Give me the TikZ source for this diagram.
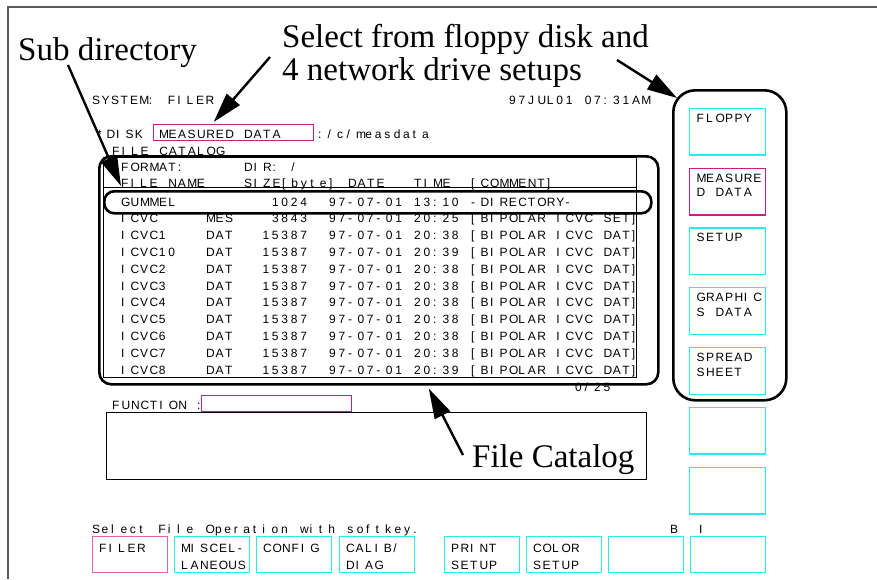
\documentclass[tikz,border=0pt]{standalone}
\usepackage{fontspec}
\setmainfont{Liberation Serif}
\newfontfamily\crtfont{Liberation Sans}
\usetikzlibrary{arrows.meta}

% every screen character sits in a cell of fixed width
\newlength\crtw
\setlength\crtw{9.45pt}
\ExplSyntaxOn
\NewDocumentCommand\crt{m}{\exp_args:Ne\str_map_inline:nn{#1}{\makebox[\crtw][l]{##1}}}
\ExplSyntaxOff

\definecolor{keycyan}{RGB}{40,235,235}
\definecolor{keymag}{RGB}{200,30,130}
\definecolor{keypink}{RGB}{225,100,175}
\definecolor{framegray}{RGB}{90,90,90}

\tikzset{
  scr/.style={font=\crtfont\fontsize{12}{14}\selectfont, inner sep=0pt, anchor=base west},
  note/.style={font=\fontsize{33}{33}\selectfont, inner sep=0pt, anchor=base west},
  key/.style={line width=1.3pt, inner sep=0pt, anchor=north west},
  callout/.style={draw, line width=2.6pt, rounded corners=#1pt, inner sep=0pt, anchor=north west},
  pointer/.style={line width=2.4pt, -{Triangle[length=30pt,width=17pt]}},
}

\begin{document}
\begin{tikzpicture}[x=1pt, y=-1pt]
\useasboundingbox (0,0) rectangle (877,579);
% frame of the screen shot
\draw[framegray, line width=1.5pt] (877,7) -- (8,7) -- (8,579);

% title and disk lines
\node[scr] (sysname) at (92,104) {\crt{SYSTEM: FILER}};
\node[scr] (sysdate) at (509,104) {\crt{97JUL01 07:31AM}};
\node[scr] (disklbl) at (97,138) {\crt{*DISK}};
\node[key, draw=keymag, minimum width=160pt, minimum height=16pt] (diskbox) at (153,124) {};
\node[scr] (diskname) at (159,138) {\crt{MEASURED DATA}};
\node[scr] (diskpath) at (318,138) {\crt{:/c/measdata}};
\node[scr] (catlbl) at (112,155) {\crt{FILE CATALOG}};

% the file table
\draw[line width=0.8pt] (103,157) rectangle (636,377);
\draw[line width=0.8pt] (103,187.5) -- (636,187.5);
\node[scr] (fmt) at (121,171) {\crt{FORMAT:}};
\node[scr] (dir) at (244,171) {\crt{DIR: /}};
\node[scr] (hname) at (121,187) {\crt{FILE NAME}};
\node[scr] (hsize) at (244,187) {\crt{SIZE[byte]}};
\node[scr] (hdate) at (348,187) {\crt{DATE}};
\node[scr] (htime) at (414,187) {\crt{TIME}};
\node[scr] (hcomm) at (471,187) {\crt{[COMMENT]}};

\node[scr] (gname) at (121,206) {\crt{GUMMEL}};
\node[scr, anchor=base east] (gsize) at (310,206) {\crt{1024}};
\node[scr] (gdate) at (329,206) {\crt{97-07-01}};
\node[scr] (gtime) at (414,206) {\crt{13:10}};
\node[scr] (gcomm) at (471,206) {\crt{-DIRECTORY-}};

\foreach \fname/\fext/\fsize/\ftime/\fkind [count=\i] in {ICVC/MES/3843/20:25/SET,
    ICVC1/DAT/15387/20:38/DAT, ICVC10/DAT/15387/20:39/DAT, ICVC2/DAT/15387/20:38/DAT,
    ICVC3/DAT/15387/20:38/DAT, ICVC4/DAT/15387/20:38/DAT, ICVC5/DAT/15387/20:38/DAT,
    ICVC6/DAT/15387/20:38/DAT, ICVC7/DAT/15387/20:38/DAT, ICVC8/DAT/15387/20:39/DAT}{
  \node[scr] (rname\i) at (121,{206+16.8*\i}) {\crt{\fname}};
  \node[scr] (rext\i) at (206,{206+16.8*\i}) {\crt{\fext}};
  \node[scr, anchor=base east] (rsize\i) at (310,{206+16.8*\i}) {\crt{\fsize}};
  \node[scr] (rdate\i) at (329,{206+16.8*\i}) {\crt{97-07-01}};
  \node[scr] (rtime\i) at (414,{206+16.8*\i}) {\crt{\ftime}};
  \node[scr] (rcomm\i) at (471,{206+16.8*\i}) {\crt{[BIPOLAR ICVC \fkind]}};
}
\node[scr] (count) at (575,391) {\crt{0/25}};

% function line and message area
\node[scr] (fnlbl) at (112,409) {\crt{FUNCTION :}};
\node[key, draw=keymag, minimum width=150pt, minimum height=16pt] (fnbox) at (201,395) {};
\node[key, draw, line width=1pt, minimum width=540pt, minimum height=67pt] (msgbox) at (106,412) {};

% soft keys at the right
\foreach \la/\lb/\kcol [count=\i from 0] in {FLOPPY/{}/keycyan, MEASURE/D DATA/keymag,
    SETUP/{}/keycyan, GRAPHIC/S DATA/keycyan, SPREAD/SHEET/keycyan, {}/{}/keycyan, {}/{}/keycyan}{
  \node[key, draw=\kcol, minimum width=76pt, minimum height=46.7pt] (rkey\i) at (689,{107.7+59.8*\i}) {};
  \node[scr] (rkeya\i) at ([xshift=7.5pt, yshift=-14.5pt]rkey\i.north west) {\crt{\la}};
  \node[scr] (rkeyb\i) at ([xshift=7.5pt, yshift=-29.2pt]rkey\i.north west) {\crt{\lb}};
}

% prompt and soft keys at the bottom
\node[scr] (prompt) at (92,533) {\crt{Select File Operation with softkey.}};
\node[scr] (bmark) at (670,533) {\crt{B}};
\node[scr] (imark) at (699,533) {\crt{I}};
\foreach \kx/\la/\lb/\kcol [count=\i] in {92/FILER/{}/keypink, 174/MISCEL-/LANEOUS/keycyan,
    256/CONFIG/{}/keycyan, 339/{CALIB/}/DIAG/keycyan, 444/PRINT/SETUP/keycyan,
    526/COLOR/SETUP/keycyan, 608/{}/{}/keycyan, 690/{}/{}/keycyan}{
  \node[key, draw=\kcol, minimum width=75pt, minimum height=36pt] (bkey\i) at (\kx,536) {};
  \node[scr] (bkeya\i) at ([xshift=7pt, yshift=-16pt]bkey\i.north west) {\crt{\la}};
  \node[scr] (bkeyb\i) at ([xshift=7pt, yshift=-33pt]bkey\i.north west) {\crt{\lb}};
}

% callouts
\node[callout=12, minimum width=559pt, minimum height=228pt] (catbox) at (98,155) {};
\node[callout=10, minimum width=547pt, minimum height=22pt] (gummelbox) at (103,190) {};
\node[callout=22, minimum width=113pt, minimum height=310pt] (drivebox) at (672,89) {};

\node[note] (subnote) at (18,60) {Sub directory};
\node[note] (selnote) at (282,47) {Select from floppy disk and};
\node[note] (selnoteb) at (282,80) {4 network drive setups};
\node[note] (catnote) at (472,467) {File Catalog};

\coordinate (subtail) at (68,65);
\coordinate (seltail) at (270,57);
\coordinate (seltailb) at (617,60);
\coordinate (cattail) at (463,455);
\draw[pointer] (subtail) -- ([shift={(18pt,4pt)}]gummelbox.north west);
\draw[pointer] (seltail) -- ([shift={(-20pt,2pt)}]diskbox.north);
\draw[pointer] (seltailb) -- ([shift={(5pt,-9pt)}]drivebox.north west);
\draw[pointer] (cattail) -- ([shift={(50pt,-3pt)}]catbox.south);
\end{tikzpicture}
\end{document}
